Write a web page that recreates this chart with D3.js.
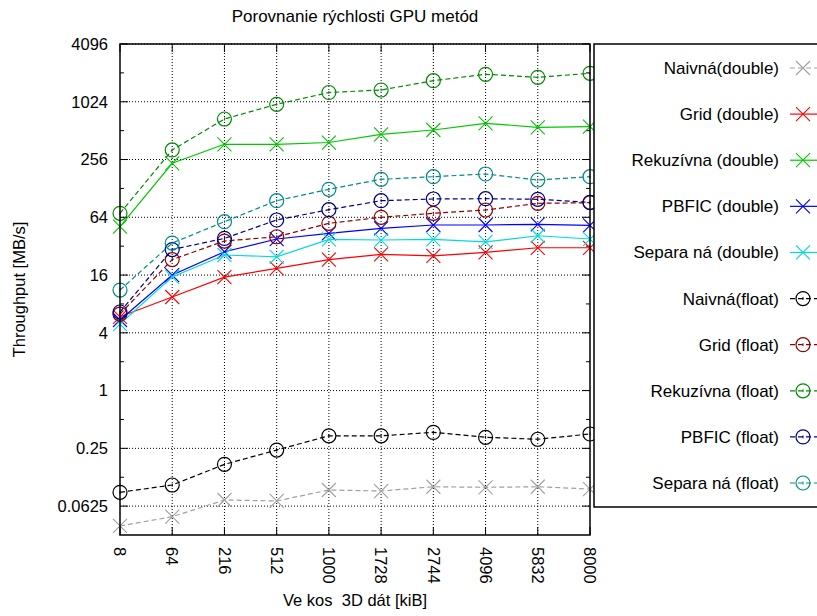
<!DOCTYPE html>
<html>
<head>
<meta charset="utf-8">
<script src="https://cdn.jsdelivr.net/npm/d3@7"></script>
<style>
  html, body { margin: 0; padding: 0; background: #fff; }
  svg { display: block; font-family: "Liberation Sans", Arial, sans-serif; }
</style>
</head>
<body>
<svg id="chart" width="817" height="616"></svg>
<script>
// ---- data ----
const xLabels = ["8", "64", "216", "512", "1000", "1728", "2744", "4096", "5832", "8000"];
const yTickValues = [0.0625, 0.25, 1, 4, 16, 64, 256, 1024, 4096];
const yTickLabels = ["0.0625", "0.25", "1", "4", "16", "64", "256", "1024", "4096"];
const yMinorValues = [0.125, 0.5, 2, 8, 32, 128, 512, 2048];

const seriesNames = [
  "Naivná(double)", "Grid (double)", "Rekuzívna (double)", "PBFIC (double)", "Separa ná (double)",
  "Naivná(float)", "Grid (float)", "Rekuzívna (float)", "PBFIC (float)", "Separa ná (float)"
];
const naivnaDouble = [0.0388, 0.0485, 0.0724, 0.0707, 0.0920, 0.0898, 0.0995, 0.0981, 0.0995, 0.0942];
const gridDouble   = [5.88, 9.45, 15.2, 18.8, 23.2, 26.3, 25.3, 27.6, 30.8, 30.8];
const rekDouble    = [51.1, 234, 369, 369, 385, 469, 520, 611, 555, 563];
const pbficDouble  = [5.44, 16.0, 28.0, 38.0, 43.6, 49.1, 53.2, 53.2, 54.1, 52.8];
const separaDouble = [4.94, 15.3, 25.9, 24.8, 37.7, 37.1, 37.7, 35.4, 41.1, 38.0];
const naivnaFloat  = [0.0871, 0.1037, 0.1703, 0.240, 0.338, 0.338, 0.367, 0.326, 0.311, 0.353];
const gridFloat    = [6.28, 23.2, 36.2, 40.1, 55.4, 64.0, 70.4, 76.2, 89.5, 90.8];
const rekFloat     = [70.4, 322, 677, 963, 1279, 1358, 1698, 1980, 1842, 2027];
const pbficFloat   = [6.59, 29.5, 38.6, 60.0, 76.8, 95.3, 99.3, 100, 98.6, 91.7];
const separaFloat  = [11.17, 34.5, 57.6, 95.3, 125.3, 159.2, 169.5, 180.9, 156.6, 169.5];

const seriesValues = [naivnaDouble, gridDouble, rekDouble, pbficDouble, separaDouble,
                      naivnaFloat, gridFloat, rekFloat, pbficFloat, separaFloat];
const seriesColors = ["#a0a0a0", "#ff0000", "#00c800", "#0000ff", "#00dada",
                      "#000000", "#900000", "#008a00", "#00008b", "#008b8b"];
const seriesMarker = ["x", "x", "x", "x", "x", "o", "o", "o", "o", "o"];
const seriesDashed = [true, false, false, false, false, true, true, true, true, true];

const titleText = "Porovnanie rýchlosti GPU metód";
const xTitle = "Ve kos\u00A0\u00A03D dát [kiB]";
const yTitle = "Throughput [MB/s]";

// ---- layout ----
const L = 120, R = 590, T = 44, B = 535;
const svg = d3.select("#chart");
const FS = 16.5;

const x = d3.scalePoint().domain(xLabels).range([L, R]);
const y = d3.scaleLog().base(2).domain([1 / 32, 4096]).range([B, T]);

// grid
const grid = svg.append("g").attr("stroke", "#000").attr("stroke-width", 1)
  .attr("stroke-dasharray", "1,2");
grid.selectAll("line.v").data(xLabels.slice(1, -1)).join("line")
  .attr("x1", d => x(d)).attr("x2", d => x(d)).attr("y1", T).attr("y2", B);
grid.selectAll("line.h").data(yTickValues).join("line")
  .attr("x1", L).attr("x2", R).attr("y1", d => y(d)).attr("y2", d => y(d));

// ticks (mirror)
const ticks = svg.append("g").attr("stroke", "#000").attr("stroke-width", 1);
yTickValues.forEach(v => {
  ticks.append("line").attr("x1", L).attr("x2", L + 8).attr("y1", y(v)).attr("y2", y(v));
  ticks.append("line").attr("x1", R - 8).attr("x2", R).attr("y1", y(v)).attr("y2", y(v));
});
yMinorValues.forEach(v => {
  ticks.append("line").attr("x1", L).attr("x2", L + 4).attr("y1", y(v)).attr("y2", y(v));
  ticks.append("line").attr("x1", R - 4).attr("x2", R).attr("y1", y(v)).attr("y2", y(v));
});
xLabels.forEach(d => {
  ticks.append("line").attr("x1", x(d)).attr("x2", x(d)).attr("y1", B).attr("y2", B - 8);
  ticks.append("line").attr("x1", x(d)).attr("x2", x(d)).attr("y1", T).attr("y2", T + 8);
});

// y tick labels
svg.append("g").selectAll("text").data(yTickValues).join("text")
  .attr("x", L - 12).attr("y", d => y(d)).attr("dy", "0.35em")
  .attr("text-anchor", "end").attr("font-size", FS)
  .text((d, i) => yTickLabels[i]);

// x tick labels (rotated)
svg.append("g").selectAll("text").data(xLabels).join("text")
  .attr("transform", d => `translate(${x(d)},${B + 12}) rotate(90)`)
  .attr("dy", "0.35em").attr("text-anchor", "start").attr("font-size", FS)
  .text(d => d);

// series
function drawMarker(g, type, cx, cy, color) {
  if (type === "x") {
    const s = 7;
    g.append("path").attr("d", `M${cx - s},${cy - s}L${cx + s},${cy + s}M${cx - s},${cy + s}L${cx + s},${cy - s}`)
      .attr("stroke", color).attr("stroke-width", 1.1).attr("fill", "none");
  } else {
    g.append("circle").attr("cx", cx).attr("cy", cy).attr("r", 7)
      .attr("stroke", color).attr("stroke-width", 1.2).attr("fill", "none");
    g.append("line").attr("x1", cx).attr("x2", cx).attr("y1", cy - 1.5).attr("y2", cy + 1.5)
      .attr("stroke", color).attr("stroke-width", 1);
  }
}

const line = d3.line().x((d, i) => x(xLabels[i])).y(d => y(d));
seriesValues.forEach((vals, si) => {
  const g = svg.append("g");
  g.append("path").attr("d", line(vals)).attr("fill", "none")
    .attr("stroke", seriesColors[si]).attr("stroke-width", 1.2)
    .attr("stroke-dasharray", seriesDashed[si] ? "5,3" : null);
  vals.forEach((v, i) => drawMarker(g, seriesMarker[si], x(xLabels[i]), y(v), seriesColors[si]));
});

// plot border
svg.append("rect").attr("x", L).attr("y", T).attr("width", R - L).attr("height", B - T)
  .attr("fill", "none").attr("stroke", "#000").attr("stroke-width", 1.5);

// legend
const LX = 594, LT = 44, LB = 507;
svg.append("rect").attr("x", LX).attr("y", LT).attr("width", 260).attr("height", LB - LT)
  .attr("fill", "#fff").attr("stroke", "#000").attr("stroke-width", 1.5);
const ly = d3.scalePoint().domain(seriesNames).range([68, 483]);
seriesNames.forEach((name, si) => {
  const g = svg.append("g");
  const yy = ly(name);
  g.append("text").attr("x", 779).attr("y", yy).attr("dy", "0.35em")
    .attr("text-anchor", "end").attr("font-size", 17).text(name);
  g.append("line").attr("x1", 790).attr("x2", 817).attr("y1", yy).attr("y2", yy)
    .attr("stroke", seriesColors[si]).attr("stroke-width", 1.2)
    .attr("stroke-dasharray", seriesDashed[si] ? "5,3" : null);
  drawMarker(g, seriesMarker[si], 803, yy, seriesColors[si]);
});

// titles
svg.append("text").attr("x", (L + R) / 2).attr("y", 22).attr("text-anchor", "middle")
  .attr("font-size", 17).text(titleText);
svg.append("text").attr("x", (L + R) / 2).attr("y", 606).attr("text-anchor", "middle")
  .attr("font-size", FS).text(xTitle);
svg.append("text").attr("transform", `translate(25,${(T + B) / 2}) rotate(-90)`)
  .attr("text-anchor", "middle").attr("font-size", FS).text(yTitle);
</script>
</body>
</html>
